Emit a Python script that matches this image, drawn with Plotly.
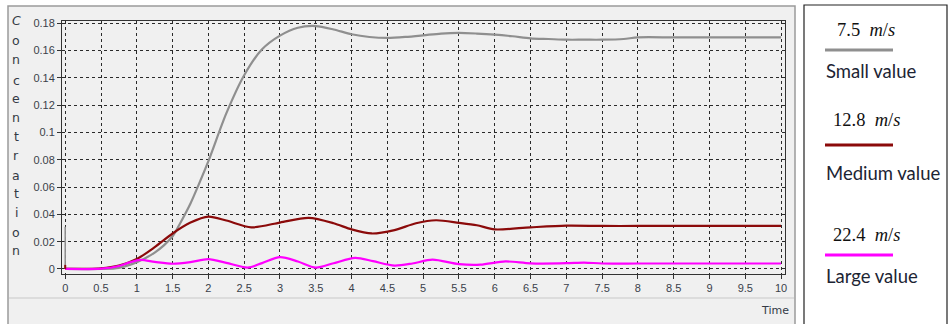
import plotly.graph_objects as go

W, H = 950, 324

# ---------------- data ----------------
small_t = [0.0, 0.5, 0.75, 1.0, 1.25, 1.5, 1.6, 1.75, 1.85, 2.0, 2.25, 2.5, 2.75, 3.0, 3.25, 3.5,
           3.75, 4.0, 4.25, 4.5, 4.75, 5.0, 5.25, 5.5, 5.75, 6.0, 6.25, 6.5, 6.75, 7.0, 7.25, 7.5,
           7.8, 8.0, 8.5, 9.0, 9.5, 10.0]
small_v = [0.0, 0.0, 0.0008, 0.005, 0.012, 0.024, 0.033, 0.048, 0.06, 0.079, 0.114, 0.142, 0.161,
           0.171, 0.1768, 0.178, 0.1755, 0.172, 0.170, 0.1693, 0.170, 0.1712, 0.1725, 0.173,
           0.1725, 0.1717, 0.1705, 0.169, 0.1685, 0.168, 0.168, 0.168, 0.1685, 0.1697, 0.1697,
           0.1697, 0.1697, 0.1697]

medium_t = [0.0, 0.5, 0.75, 1.0, 1.25, 1.5, 1.75, 2.0, 2.25, 2.6, 3.0, 3.4, 3.75, 4.0, 4.28, 4.6,
            4.9, 5.18, 5.5, 5.75, 6.0, 6.5, 7.0, 7.5, 8.0, 8.5, 9.0, 9.5, 10.0]
medium_v = [0.0, 0.0005, 0.0025, 0.0073, 0.016, 0.026, 0.034, 0.0384, 0.0355, 0.0305, 0.034,
            0.0374, 0.0335, 0.029, 0.026, 0.0285, 0.0335, 0.0357, 0.0338, 0.032, 0.029, 0.0305,
            0.0317, 0.0315, 0.0315, 0.0315, 0.0315, 0.0315, 0.0315]

large_t = [0.0, 0.5, 0.75, 0.9, 1.05, 1.25, 1.5, 1.75, 2.0, 2.25, 2.55, 2.75, 3.0, 3.25, 3.5, 3.75,
           4.05, 4.3, 4.6, 4.85, 5.13, 5.5, 5.8, 6.15, 6.5, 7.0, 7.25, 7.5, 8.0, 8.5, 9.0, 9.5, 10.0]
large_v = [0.0, 0.0002, 0.0022, 0.0048, 0.0066, 0.0052, 0.0038, 0.005, 0.0072, 0.0045, 0.001,
           0.0043, 0.0087, 0.0055, 0.001, 0.0042, 0.0081, 0.0057, 0.0025, 0.004, 0.0068, 0.0035,
           0.0031, 0.0055, 0.0041, 0.0042, 0.0047, 0.004, 0.004, 0.004, 0.004, 0.004, 0.004]

# initial transients at t = 0
spike_t = [0.0, 0.0]
small_spike = [0.031, 0.0]
medium_spike = [0.003, 0.0]

x_ticks = [0, 0.5, 1, 1.5, 2, 2.5, 3, 3.5, 4, 4.5, 5, 5.5, 6, 6.5, 7, 7.5, 8, 8.5, 9, 9.5, 10]
x_tick_labels = ["0", "0.5", "1", "1.5", "2", "2.5", "3", "3.5", "4", "4.5", "5", "5.5", "6",
                 "6.5", "7", "7.5", "8", "8.5", "9", "9.5", "10"]
y_ticks = [0, 0.02, 0.04, 0.06, 0.08, 0.1, 0.12, 0.14, 0.16, 0.18]
y_tick_labels = ["0", "0.02", "0.04", "0.06", "0.08", "0.1", "0.12", "0.14", "0.16", "0.18"]

series_names = ["Small value", "Medium value", "Large value"]
series_speeds = ["7.5", "12.8", "22.4"]
series_colors = ["#8f8f8f", "#8b0a0a", "#ff00ff"]
y_title = "Concentration"
x_title = "Time"

# ---------------- figure ----------------
def px(x):
    return x / W


def py(y):
    return 1 - y / H


fig = go.Figure()
for tt, vv, col, name in [(small_t, small_v, series_colors[0], series_names[0]),
                          (medium_t, medium_v, series_colors[1], series_names[1]),
                          (large_t, large_v, series_colors[2], series_names[2])]:
    fig.add_trace(go.Scatter(x=tt, y=vv, mode="lines", name=name, showlegend=False,
                             line=dict(color=col, width=2.2, shape="spline", smoothing=0.8)))
fig.add_trace(go.Scatter(x=spike_t, y=small_spike, mode="lines", showlegend=False,
                         line=dict(color=series_colors[0], width=1.5)))
fig.add_trace(go.Scatter(x=spike_t, y=medium_spike, mode="lines", showlegend=False,
                         line=dict(color=series_colors[1], width=2)))

tickfont = dict(family="Liberation Sans", size=11, color="#3a3f4a")
axis_common = dict(showgrid=True, gridcolor="#2a2a2a", gridwidth=1, griddash="3px,3px",
                   zeroline=False, showline=True, mirror=True, linecolor="#333333", linewidth=1,
                   ticks="outside", ticklen=4, tickcolor="#333333", tickfont=tickfont,
                   automargin=False, fixedrange=True)

fig.update_layout(
    width=W, height=H, template="none",
    margin=dict(l=0, r=0, t=0, b=0, autoexpand=False),
    paper_bgcolor="white", plot_bgcolor="#f0f0f0",
    showlegend=False,
    xaxis=dict(domain=[62 / W, 785 / W], range=[-0.045, 10.055], tickmode="array",
               tickvals=x_ticks, ticktext=x_tick_labels, **axis_common),
    yaxis=dict(domain=[1 - 274 / H, 1 - 21 / H], range=[-0.0037, 0.1817], tickmode="array",
               tickvals=y_ticks, ticktext=y_tick_labels, **axis_common),
)

shapes = []
# window frame
shapes.append(dict(type="rect", xref="paper", yref="paper", x0=px(8), x1=px(795), y0=py(326),
                   y1=py(6), fillcolor="#f0f0f0", line=dict(color="#9a9a9a", width=1.5),
                   layer="below"))
shapes.append(dict(type="line", xref="paper", yref="paper", x0=px(9), x1=px(794), y0=py(298),
                   y1=py(298), line=dict(color="#c8c8c8", width=1), layer="below"))
# legend box
shapes.append(dict(type="rect", xref="paper", yref="paper", x0=px(804), x1=px(947), y0=py(326),
                   y1=py(5), fillcolor="white", line=dict(color="#222222", width=1.2)))
legend_line_y = [50, 145, 255]
for col, ly in zip(series_colors, legend_line_y):
    shapes.append(dict(type="line", xref="paper", yref="paper", x0=px(825), x1=px(893),
                       y0=py(ly), y1=py(ly), line=dict(color=col, width=3)))
fig.update_layout(shapes=shapes)

ann = []
# vertical stacked y title
letter_y = [20.7, 40, 60, 80, 98, 117, 136, 155, 175, 193, 212, 232, 250]
for i, ch in enumerate(y_title):
    ann.append(dict(x=px(16), y=py(letter_y[i]), xref="paper", yref="paper",
                    text=("<i>%s</i>" % ch) if i == 0 else ch,
                    showarrow=False, xanchor="center", yanchor="middle",
                    font=dict(family="DejaVu Sans", size=12.5, color="#333a45")))
# x title
ann.append(dict(x=px(791), y=py(310), xref="paper", yref="paper", text=x_title, showarrow=False,
                xanchor="right", yanchor="middle",
                font=dict(family="DejaVu Sans", size=11, color="#333a45")))
# legend texts
speed_y = [30, 120, 235]
name_y = [71, 173, 276]
speed_x = [835, 831, 831]
for sp, nm, sy, ny, sx in zip(series_speeds, series_names, speed_y, name_y, speed_x):
    ann.append(dict(x=px(sx), y=py(sy), xref="paper", yref="paper",
                    text=f"{sp}&nbsp; <i>m</i>/<i>s</i>", showarrow=False, xanchor="left",
                    yanchor="middle",
                    font=dict(family="Liberation Serif", size=18.5, color="#111111")))
    ann.append(dict(x=px(824), y=py(ny), xref="paper", yref="paper", text=nm, showarrow=False,
                    xanchor="left", yanchor="middle",
                    font=dict(family="Lato", size=18.5, color="#1c2433")))
fig.update_layout(annotations=ann)

fig.write_html("out.html", config={"displayModeBar": False},
               post_script="document.body.style.margin='0';")
